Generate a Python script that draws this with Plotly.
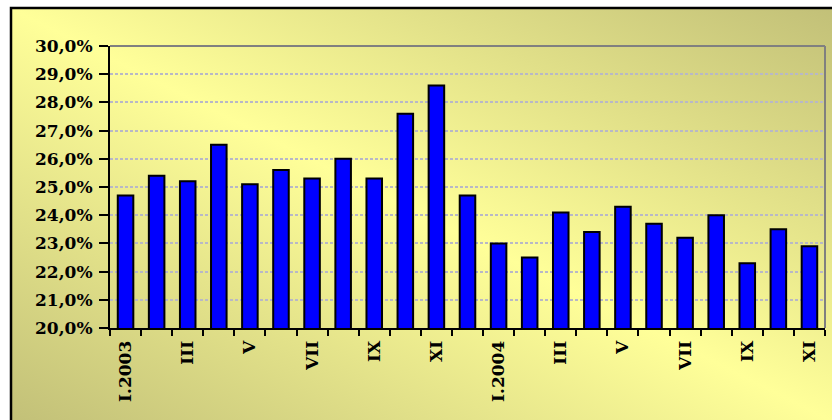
import base64
import plotly.graph_objects as go

months = ["I.2003", "II.2003", "III.2003", "IV.2003", "V.2003", "VI.2003",
          "VII.2003", "VIII.2003", "IX.2003", "X.2003", "XI.2003", "XII.2003",
          "I.2004", "II.2004", "III.2004", "IV.2004", "V.2004", "VI.2004",
          "VII.2004", "VIII.2004", "IX.2004", "X.2004", "XI.2004"]
values = [24.7, 25.4, 25.2, 26.5, 25.1, 25.6, 25.3, 26.0, 25.3, 27.6, 28.6, 24.7,
          23.0, 22.5, 24.1, 23.4, 24.3, 23.7, 23.2, 24.0, 22.3, 23.5, 22.9]
tick_labels = ["I.2003", "", "III", "", "V", "", "VII", "", "IX", "", "XI", "",
               "I.2004", "", "III", "", "V", "", "VII", "", "IX", "", "XI"]
y_ticks = [20, 21, 22, 23, 24, 25, 26, 27, 28, 29, 30]
y_tick_text = [f"{v},0%" for v in y_ticks]

W, H = 832, 420
L, R, T, B = 110, 7, 46, 92
PW, PH = W - L - R, H - T - B

def px_x(p):
    return (p - L) / PW

def px_y(p):
    return (H - B - p) / PH

# gradient background (diagonal, like the original chart area fill)
gw, gh = 822, 413
svg = (f'<svg xmlns="http://www.w3.org/2000/svg" width="{gw}" height="{gh}" '
       f'viewBox="0 0 {gw} {gh}" preserveAspectRatio="none">'
       '<defs><linearGradient id="g" x1="0" y1="1" x2="1" y2="0">'
       '<stop offset="0" stop-color="#c2c078"/>'
       '<stop offset="0.5" stop-color="#ffff99"/>'
       '<stop offset="1" stop-color="#c2c078"/>'
       '</linearGradient></defs>'
       f'<rect width="{gw}" height="{gh}" fill="url(#g)"/></svg>')
uri = "data:image/svg+xml;base64," + base64.b64encode(svg.encode()).decode()

font = dict(family="DejaVu Serif", size=17, color="black", weight="bold")

fig = go.Figure(go.Bar(
    x=months, y=values,
    marker=dict(color="#0000ff", line=dict(color="black", width=2)),
    hoverinfo="x+y",
))

fig.update_layout(
    width=W, height=H,
    margin=dict(l=L, r=R, t=T, b=B),
    paper_bgcolor="white",
    plot_bgcolor="rgba(0,0,0,0)",
    bargap=0.5,
    showlegend=False,
    images=[dict(source=uri, xref="paper", yref="paper",
                 x=px_x(12), y=px_y(9), sizex=gw / PW, sizey=gh / PH,
                 xanchor="left", yanchor="top", sizing="stretch", layer="below")],
    shapes=[
        dict(type="rect", xref="paper", yref="paper",
             x0=px_x(11), y0=px_y(8), x1=px_x(900), y1=px_y(500),
             line=dict(color="black", width=2.5), layer="below"),
        dict(type="line", xref="paper", yref="paper", x0=0, x1=1, y0=1, y1=1,
             line=dict(color="#808080", width=2)),
        dict(type="line", xref="paper", yref="paper", x0=1, x1=1, y0=0, y1=1,
             line=dict(color="#808080", width=2)),
    ],
)

fig.update_xaxes(
    type="category",
    tickmode="array", tickvals=months, ticktext=tick_labels,
    tickson="boundaries", ticks="outside", ticklen=6, tickwidth=2, tickcolor="black",
    tickangle=-90, tickfont=font, ticklabelstandoff=4,
    showline=True, linecolor="black", linewidth=2,
    showgrid=False, zeroline=False,
)
fig.update_yaxes(
    range=[20, 30],
    tickmode="array", tickvals=y_ticks, ticktext=y_tick_text,
    ticks="outside", ticklen=9, tickwidth=2, tickcolor="black",
    tickfont=font, ticklabelstandoff=3,
    showline=True, linecolor="black", linewidth=2,
    showgrid=True, gridcolor="#b8b8c6", gridwidth=1.5, griddash="3px,2px",
    zeroline=False,
)

fig.write_html(
    "out.html",
    config={"displayModeBar": False},
    post_script="document.body.style.margin='0';document.body.style.overflow='hidden';",
)
